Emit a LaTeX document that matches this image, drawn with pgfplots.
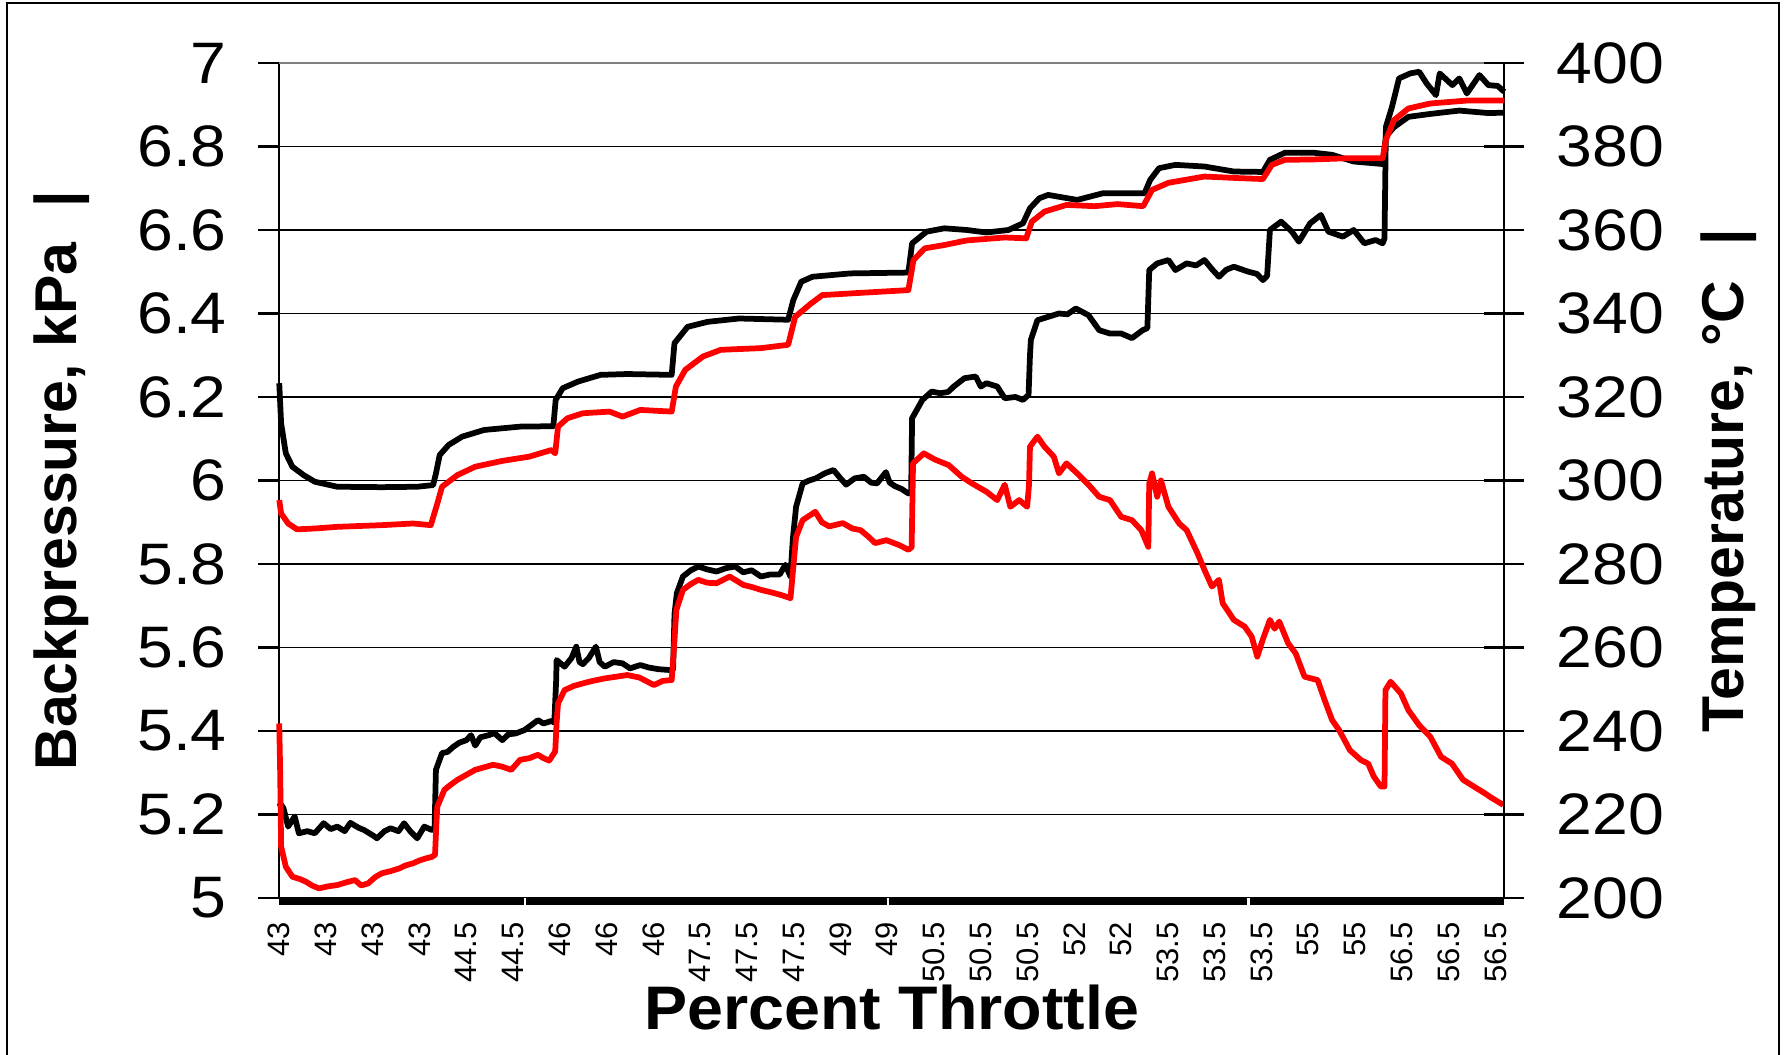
\documentclass[border=0pt]{standalone}
\usepackage{pgfplots}
\pgfplotsset{compat=1.18}
\usepackage{pgfplotstable}
\usepackage{fontspec}
\setmainfont{Liberation Sans}
\newfontfamily\tickfont[FakeStretch=1.1]{Liberation Sans}
\newfontfamily\xlabfont[FakeStretch=1.05]{Liberation Sans}
\definecolor{topgray}{RGB}{128,128,128}
\definecolor{pred}{RGB}{255,0,0}

% Backpressure, black (kPa)
\pgfplotstableread{
x y
0 5.219
0.03 5.225
0.09 5.215
0.19 5.171
0.33 5.195
0.42 5.155
0.60 5.160
0.76 5.155
0.95 5.179
1.10 5.165
1.24 5.171
1.40 5.160
1.52 5.180
1.70 5.168
1.81 5.163
2.00 5.150
2.09 5.143
2.25 5.160
2.38 5.167
2.55 5.160
2.67 5.179
2.80 5.160
2.95 5.143
3.10 5.171
3.26 5.163
3.32 5.165
3.35 5.307
3.48 5.347
3.60 5.350
3.72 5.362
3.85 5.372
4.00 5.378
4.10 5.390
4.19 5.365
4.30 5.385
4.48 5.390
4.60 5.395
4.77 5.378
4.90 5.392
5.05 5.394
5.24 5.402
5.40 5.415
5.53 5.426
5.65 5.418
5.82 5.424
5.88 5.420
5.92 5.520
5.93 5.570
6.10 5.554
6.25 5.575
6.35 5.602
6.42 5.565
6.49 5.560
6.62 5.575
6.77 5.602
6.85 5.565
6.96 5.554
7.15 5.565
7.34 5.562
7.50 5.550
7.72 5.558
7.90 5.552
8.11 5.548
8.35 5.546
8.42 5.548
8.45 5.680
8.50 5.730
8.63 5.770
8.80 5.785
8.96 5.794
9.15 5.787
9.35 5.782
9.55 5.790
9.75 5.794
9.92 5.780
10.10 5.785
10.30 5.770
10.50 5.775
10.70 5.775
10.82 5.798
10.93 5.770
10.98 5.860
11.05 5.937
11.19 5.993
11.33 6.000
11.47 6.005
11.66 6.017
11.85 6.025
12.00 6.005
12.12 5.990
12.30 6.005
12.50 6.009
12.65 5.995
12.78 5.993
12.97 6.020
13.05 5.995
13.17 5.986
13.30 5.980
13.45 5.969
13.51 5.975
13.53 6.150
13.55 6.153
13.75 6.193
13.95 6.213
14.13 6.209
14.30 6.212
14.42 6.225
14.65 6.245
14.89 6.249
15.00 6.225
15.12 6.233
15.35 6.225
15.51 6.197
15.74 6.200
15.90 6.193
16.02 6.205
16.05 6.300
16.07 6.337
16.21 6.384
16.44 6.392
16.67 6.400
16.85 6.398
17.03 6.412
17.30 6.396
17.53 6.360
17.76 6.352
18.00 6.352
18.23 6.341
18.46 6.360
18.56 6.365
18.60 6.504
18.77 6.520
19.01 6.528
19.16 6.504
19.40 6.520
19.60 6.515
19.78 6.528
19.95 6.505
20.09 6.488
20.25 6.505
20.41 6.512
20.72 6.500
20.90 6.495
21.03 6.480
21.12 6.490
21.18 6.600
21.42 6.620
21.65 6.596
21.80 6.572
22.04 6.616
22.27 6.636
22.43 6.596
22.74 6.584
22.97 6.600
23.20 6.568
23.44 6.576
23.59 6.568
23.63 6.580
23.66 6.847
23.79 6.895
23.94 6.963
24.18 6.975
24.37 6.979
24.53 6.951
24.73 6.923
24.81 6.975
25.08 6.947
25.23 6.963
25.39 6.927
25.66 6.971
25.85 6.947
26.05 6.945
26.19 6.931
}\bpblack

% Backpressure, red (kPa)
\pgfplotstableread{
x y
0 5.418
0.02 5.299
0.04 5.123
0.14 5.075
0.28 5.051
0.45 5.045
0.57 5.039
0.70 5.030
0.85 5.023
1.05 5.028
1.24 5.031
1.45 5.038
1.62 5.043
1.75 5.030
1.90 5.035
2.05 5.050
2.19 5.059
2.40 5.065
2.57 5.071
2.70 5.078
2.86 5.083
3.00 5.090
3.14 5.095
3.25 5.098
3.33 5.103
3.36 5.180
3.38 5.219
3.53 5.259
3.65 5.270
3.81 5.283
4.00 5.295
4.19 5.307
4.35 5.312
4.57 5.319
4.75 5.315
4.96 5.307
5.15 5.331
5.35 5.335
5.53 5.343
5.65 5.335
5.77 5.329
5.90 5.351
5.93 5.420
5.96 5.466
6.10 5.498
6.30 5.508
6.49 5.514
6.70 5.520
6.96 5.526
7.20 5.530
7.44 5.534
7.70 5.528
8.01 5.510
8.20 5.520
8.39 5.522
8.44 5.600
8.49 5.690
8.63 5.738
8.80 5.752
8.96 5.762
9.15 5.755
9.35 5.754
9.63 5.770
9.92 5.750
10.10 5.745
10.30 5.738
10.59 5.730
10.75 5.725
10.93 5.718
10.98 5.780
11.05 5.865
11.19 5.905
11.46 5.925
11.60 5.900
11.76 5.890
12.05 5.898
12.25 5.885
12.43 5.881
12.60 5.865
12.74 5.850
12.98 5.857
13.26 5.845
13.45 5.834
13.52 5.840
13.55 6.041
13.78 6.065
14.02 6.050
14.31 6.037
14.59 6.009
14.81 5.993
15.12 5.973
15.35 5.953
15.51 5.990
15.63 5.937
15.82 5.953
15.99 5.937
16.03 5.990
16.05 6.081
16.21 6.105
16.36 6.081
16.56 6.057
16.67 6.017
16.83 6.041
17.06 6.017
17.30 5.990
17.53 5.961
17.76 5.953
18.00 5.913
18.23 5.905
18.43 5.881
18.58 5.841
18.60 5.993
18.66 6.017
18.77 5.961
18.85 6.000
19.01 5.937
19.24 5.897
19.40 5.881
19.63 5.826
19.78 5.786
19.94 5.746
20.09 5.762
20.17 5.706
20.41 5.666
20.64 5.650
20.79 5.626
20.91 5.578
21.03 5.620
21.18 5.666
21.28 5.645
21.38 5.662
21.57 5.610
21.73 5.586
21.92 5.530
22.20 5.522
22.35 5.474
22.51 5.426
22.66 5.402
22.89 5.354
23.13 5.330
23.28 5.322
23.40 5.291
23.55 5.267
23.63 5.267
23.65 5.498
23.76 5.518
23.98 5.490
24.14 5.450
24.37 5.414
24.61 5.386
24.84 5.338
25.07 5.322
25.31 5.283
25.54 5.267
25.77 5.251
25.93 5.239
26.17 5.223
}\bpred

% Temperature, black (degC)
\pgfplotstableread{
x y
0 323.3
0.04 313.7
0.14 306.5
0.28 303.3
0.52 301.3
0.76 299.7
1.24 298.5
2.19 298.4
2.95 298.5
3.29 298.9
3.35 301.7
3.43 306.1
3.62 308.5
3.91 310.5
4.38 312.1
5.15 312.9
5.86 313.0
5.91 319.3
6.06 322.1
6.39 323.7
6.87 325.3
7.44 325.5
8.39 325.3
8.45 332.9
8.73 336.8
9.16 338.0
9.83 338.8
10.88 338.5
10.99 343.2
11.16 347.6
11.40 348.8
12.21 349.6
13.45 349.8
13.53 356.8
13.84 359.6
14.22 360.4
14.70 360.0
15.12 359.4
15.59 360.0
15.90 361.6
16.05 365.2
16.25 367.6
16.44 368.4
17.06 367.2
17.61 368.8
18.50 368.8
18.62 372.0
18.81 374.8
19.16 375.6
19.78 375.2
20.41 374.0
21.03 373.9
21.18 376.8
21.50 378.5
22.12 378.5
22.51 378.0
22.97 376.4
23.59 375.8
23.66 382.4
23.83 384.6
24.14 387.1
24.61 387.8
25.23 388.6
25.85 388.0
26.19 388.1
}\tblack

% Temperature, red (degC)
\pgfplotstableread{
x y
0 295.3
0.04 292.1
0.19 289.7
0.38 288.3
0.76 288.5
1.24 288.9
2.19 289.3
2.86 289.7
3.24 289.3
3.38 294.5
3.48 298.5
3.81 301.3
4.19 303.3
4.77 304.7
5.34 305.7
5.82 307.3
5.90 306.5
5.96 312.9
6.16 314.9
6.49 316.1
7.06 316.5
7.34 315.3
7.72 316.9
8.39 316.5
8.48 322.5
8.68 326.5
9.06 329.7
9.44 331.3
10.30 331.7
10.88 332.5
11.03 339.2
11.37 342.4
11.61 344.4
12.21 344.8
13.45 345.6
13.56 352.8
13.80 355.6
14.22 356.4
14.70 357.5
15.51 358.2
15.97 358.0
16.09 362.0
16.36 364.4
16.83 366.0
17.43 365.7
17.92 366.2
18.47 365.7
18.66 369.6
19.01 371.3
19.78 372.8
20.56 372.4
21.03 372.2
21.22 375.6
21.50 376.8
22.12 376.9
22.89 377.2
23.59 377.2
23.66 381.6
23.83 386.3
24.14 389.1
24.61 390.3
25.39 391.0
26.19 391.0
}\tred

\begin{document}
\begin{tikzpicture}
\path[use as bounding box] (0,0) rectangle (714.8pt,422pt);
\draw[line width=0.8pt] (2.8pt,-2pt) -- (2.8pt,420.8pt) -- (711.6pt,420.8pt) -- (711.6pt,-2pt);
\begin{axis}[
  at={(111.7pt,62.8pt)}, anchor=south west,
  width=490pt, height=334pt, scale only axis,
  xmin=0, xmax=26.19, ymin=5, ymax=7,
  clip=false,
  axis x line*=bottom, axis y line*=left,
  axis line style={line width=0.9pt,-},
  xtick={0,...,26},
  xticklabels={43,43,43,43,44.5,44.5,46,46,46,47.5,47.5,47.5,49,49,50.5,50.5,50.5,52,52,53.5,53.5,53.5,55,55,56.5,56.5,56.5},
  x tick style={draw=none},
  xticklabel style={rotate=90, anchor=east, inner sep=0pt, font=\fontsize{12.4}{12.4}\selectfont},
  xticklabel shift=1.2pt,
  ytick={5,5.2,5.4,5.6,5.8,6,6.2,6.4,6.6,6.8,7},
  ytick pos=left,
  y tick style={line width=0.9pt, black},
  tick align=outside,
  major tick length=8.4pt,
  yticklabel style={font=\tickfont\fontsize{23.4}{24}\selectfont, inner sep=0pt, anchor=east},
  yticklabel shift=12.4pt,
  /pgf/number format/assume math mode=true,
  ymajorgrids, grid style={black, line width=0.7pt},
  xlabel={Percent Throttle},
  ylabel={Backpressure, kPa\hspace{0.6em}|},
  every axis x label/.style={at={(axis description cs:0.5,-0.1569)}, anchor=base, inner sep=0pt, font=\xlabfont\bfseries\fontsize{24.6}{26}\selectfont},
  every axis y label/.style={at={(axis description cs:-0.2008,0.5)}, rotate=90, anchor=north, inner sep=0pt, font=\bfseries\fontsize{23.6}{24}\selectfont},
]
\addplot[black, line width=2.3pt, line join=round] table[x=x,y=y] {\bpblack};
\addplot[pred, line width=2.3pt, line join=round] table[x=x,y=y] {\bpred};
\draw[line width=0.9pt, topgray] (rel axis cs:0,1) -- (rel axis cs:1,1);
\fill[black] (rel axis cs:0,0) rectangle ([yshift=-2.8pt]rel axis cs:1,0);
\draw[white, line width=0.9pt] (axis cs:5.26,5) -- ([yshift=-2.8pt]axis cs:5.26,5);
\draw[white, line width=0.9pt] (axis cs:13.01,5) -- ([yshift=-2.8pt]axis cs:13.01,5);
\draw[white, line width=0.9pt] (axis cs:20.72,5) -- ([yshift=-2.8pt]axis cs:20.72,5);
\end{axis}
\begin{axis}[
  at={(111.7pt,62.8pt)}, anchor=south west,
  width=490pt, height=334pt, scale only axis,
  xmin=0, xmax=26.19, ymin=200, ymax=400,
  clip=false,
  axis x line=none, axis y line*=right,
  axis line style={line width=0.9pt,-},
  ytick={200,220,240,260,280,300,320,340,360,380,400},
  ytick pos=right, yticklabel pos=right,
  y tick style={line width=0.9pt, black},
  tick align=center,
  major tick length=16pt,
  yticklabel style={font=\tickfont\fontsize{23.4}{24}\selectfont, inner sep=0pt, anchor=west},
  yticklabel shift=12.8pt,
  /pgf/number format/assume math mode=true,
  ylabel={Temperature, °C\hspace{0.6em}|},
  every axis y label/.style={at={(axis description cs:1.16,0.5)}, rotate=90, anchor=north, inner sep=0pt, font=\bfseries\fontsize{23.6}{24}\selectfont},
]
\addplot[black, line width=2.3pt, line join=round] table[x=x,y=y] {\tblack};
\addplot[pred, line width=2.3pt, line join=round] table[x=x,y=y] {\tred};
\end{axis}
\end{tikzpicture}
\end{document}
